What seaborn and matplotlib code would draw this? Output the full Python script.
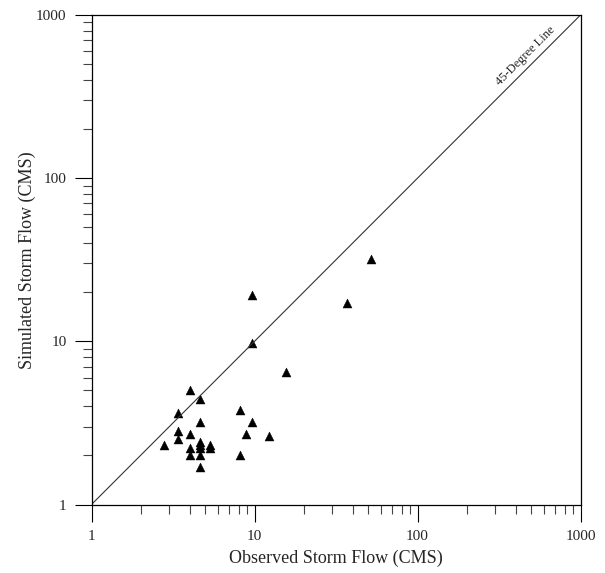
import matplotlib
matplotlib.use("Agg")
import matplotlib.pyplot as plt
import seaborn as sns
import pandas as pd
from matplotlib.ticker import LogLocator, FixedLocator, NullFormatter

# Observed vs simulated storm flows (CMS)
observed = [52, 9.7, 36.9, 9.7, 15.7, 4.0, 4.66, 3.37, 8.2, 4.66, 9.7,
            3.37, 4.0, 8.9, 12.2, 3.37, 2.77, 4.66, 4.66, 5.32, 5.32,
            4.0, 4.66, 4.0, 4.66, 8.2, 4.66]
simulated = [32, 19.3, 17.2, 9.7, 6.5, 5.0, 4.41, 3.62, 3.82, 3.22, 3.22,
             2.81, 2.72, 2.72, 2.62, 2.51, 2.31, 2.41, 2.30, 2.30, 2.21,
             2.21, 2.21, 2.01, 2.01, 2.01, 1.70]

line_x = [1, 1000]
line_y = [1, 1000]
ticks = [1, 10, 100, 1000]
tick_labels = ["1", "10", "100", "1000"]

df = pd.DataFrame({"Observed": observed, "Simulated": simulated})
line_df = pd.DataFrame({"x": line_x, "y": line_y})

sns.set_style("ticks")
plt.rcParams["font.family"] = ["Liberation Serif", "DejaVu Serif"]

fig = plt.figure(figsize=(6.05, 5.73), dpi=100)
ax = fig.add_axes([91.5 / 605, 68.5 / 573, 489 / 605, 489.5 / 573])

# 1:1 reference line
sns.lineplot(data=line_df, x="x", y="y", color="#333333", linewidth=0.8, ax=ax)

# storm events
sns.scatterplot(data=df, x="Observed", y="Simulated", marker="^", s=42,
                color="black", edgecolor="black", linewidth=0.3, ax=ax)

ax.set_xscale("log")
ax.set_yscale("log")
ax.set_xlim(1, 1000)
ax.set_ylim(1, 1000)

ax.xaxis.set_major_locator(FixedLocator(ticks))
ax.yaxis.set_major_locator(FixedLocator(ticks))
ax.set_xticklabels(tick_labels)
ax.set_yticklabels(tick_labels)
ax.xaxis.set_minor_locator(LogLocator(base=10, subs=range(2, 10)))
ax.yaxis.set_minor_locator(LogLocator(base=10, subs=range(2, 10)))
ax.xaxis.set_minor_formatter(NullFormatter())
ax.yaxis.set_minor_formatter(NullFormatter())

ax.tick_params(which="major", direction="out", length=12, width=0.8,
               labelsize=11, pad=6, color="black")
ax.tick_params(which="minor", direction="out", length=6.5, width=0.8,
               color="#444444")

for side in ["left", "bottom", "top", "right"]:
    ax.spines[side].set_visible(True)
    ax.spines[side].set_linewidth(0.9)
    ax.spines[side].set_color("black")

ax.set_xlabel("Observed Storm Flow (CMS)", fontsize=13, labelpad=5)
ax.set_ylabel("Simulated Storm Flow (CMS)", fontsize=13, labelpad=0)

ax.annotate("45-Degree Line", xy=(505, 505), xytext=(-2, 2),
            textcoords="offset points", rotation=45, rotation_mode="anchor",
            ha="center", va="bottom", fontsize=9)

plt.savefig("out.png", dpi=100)
